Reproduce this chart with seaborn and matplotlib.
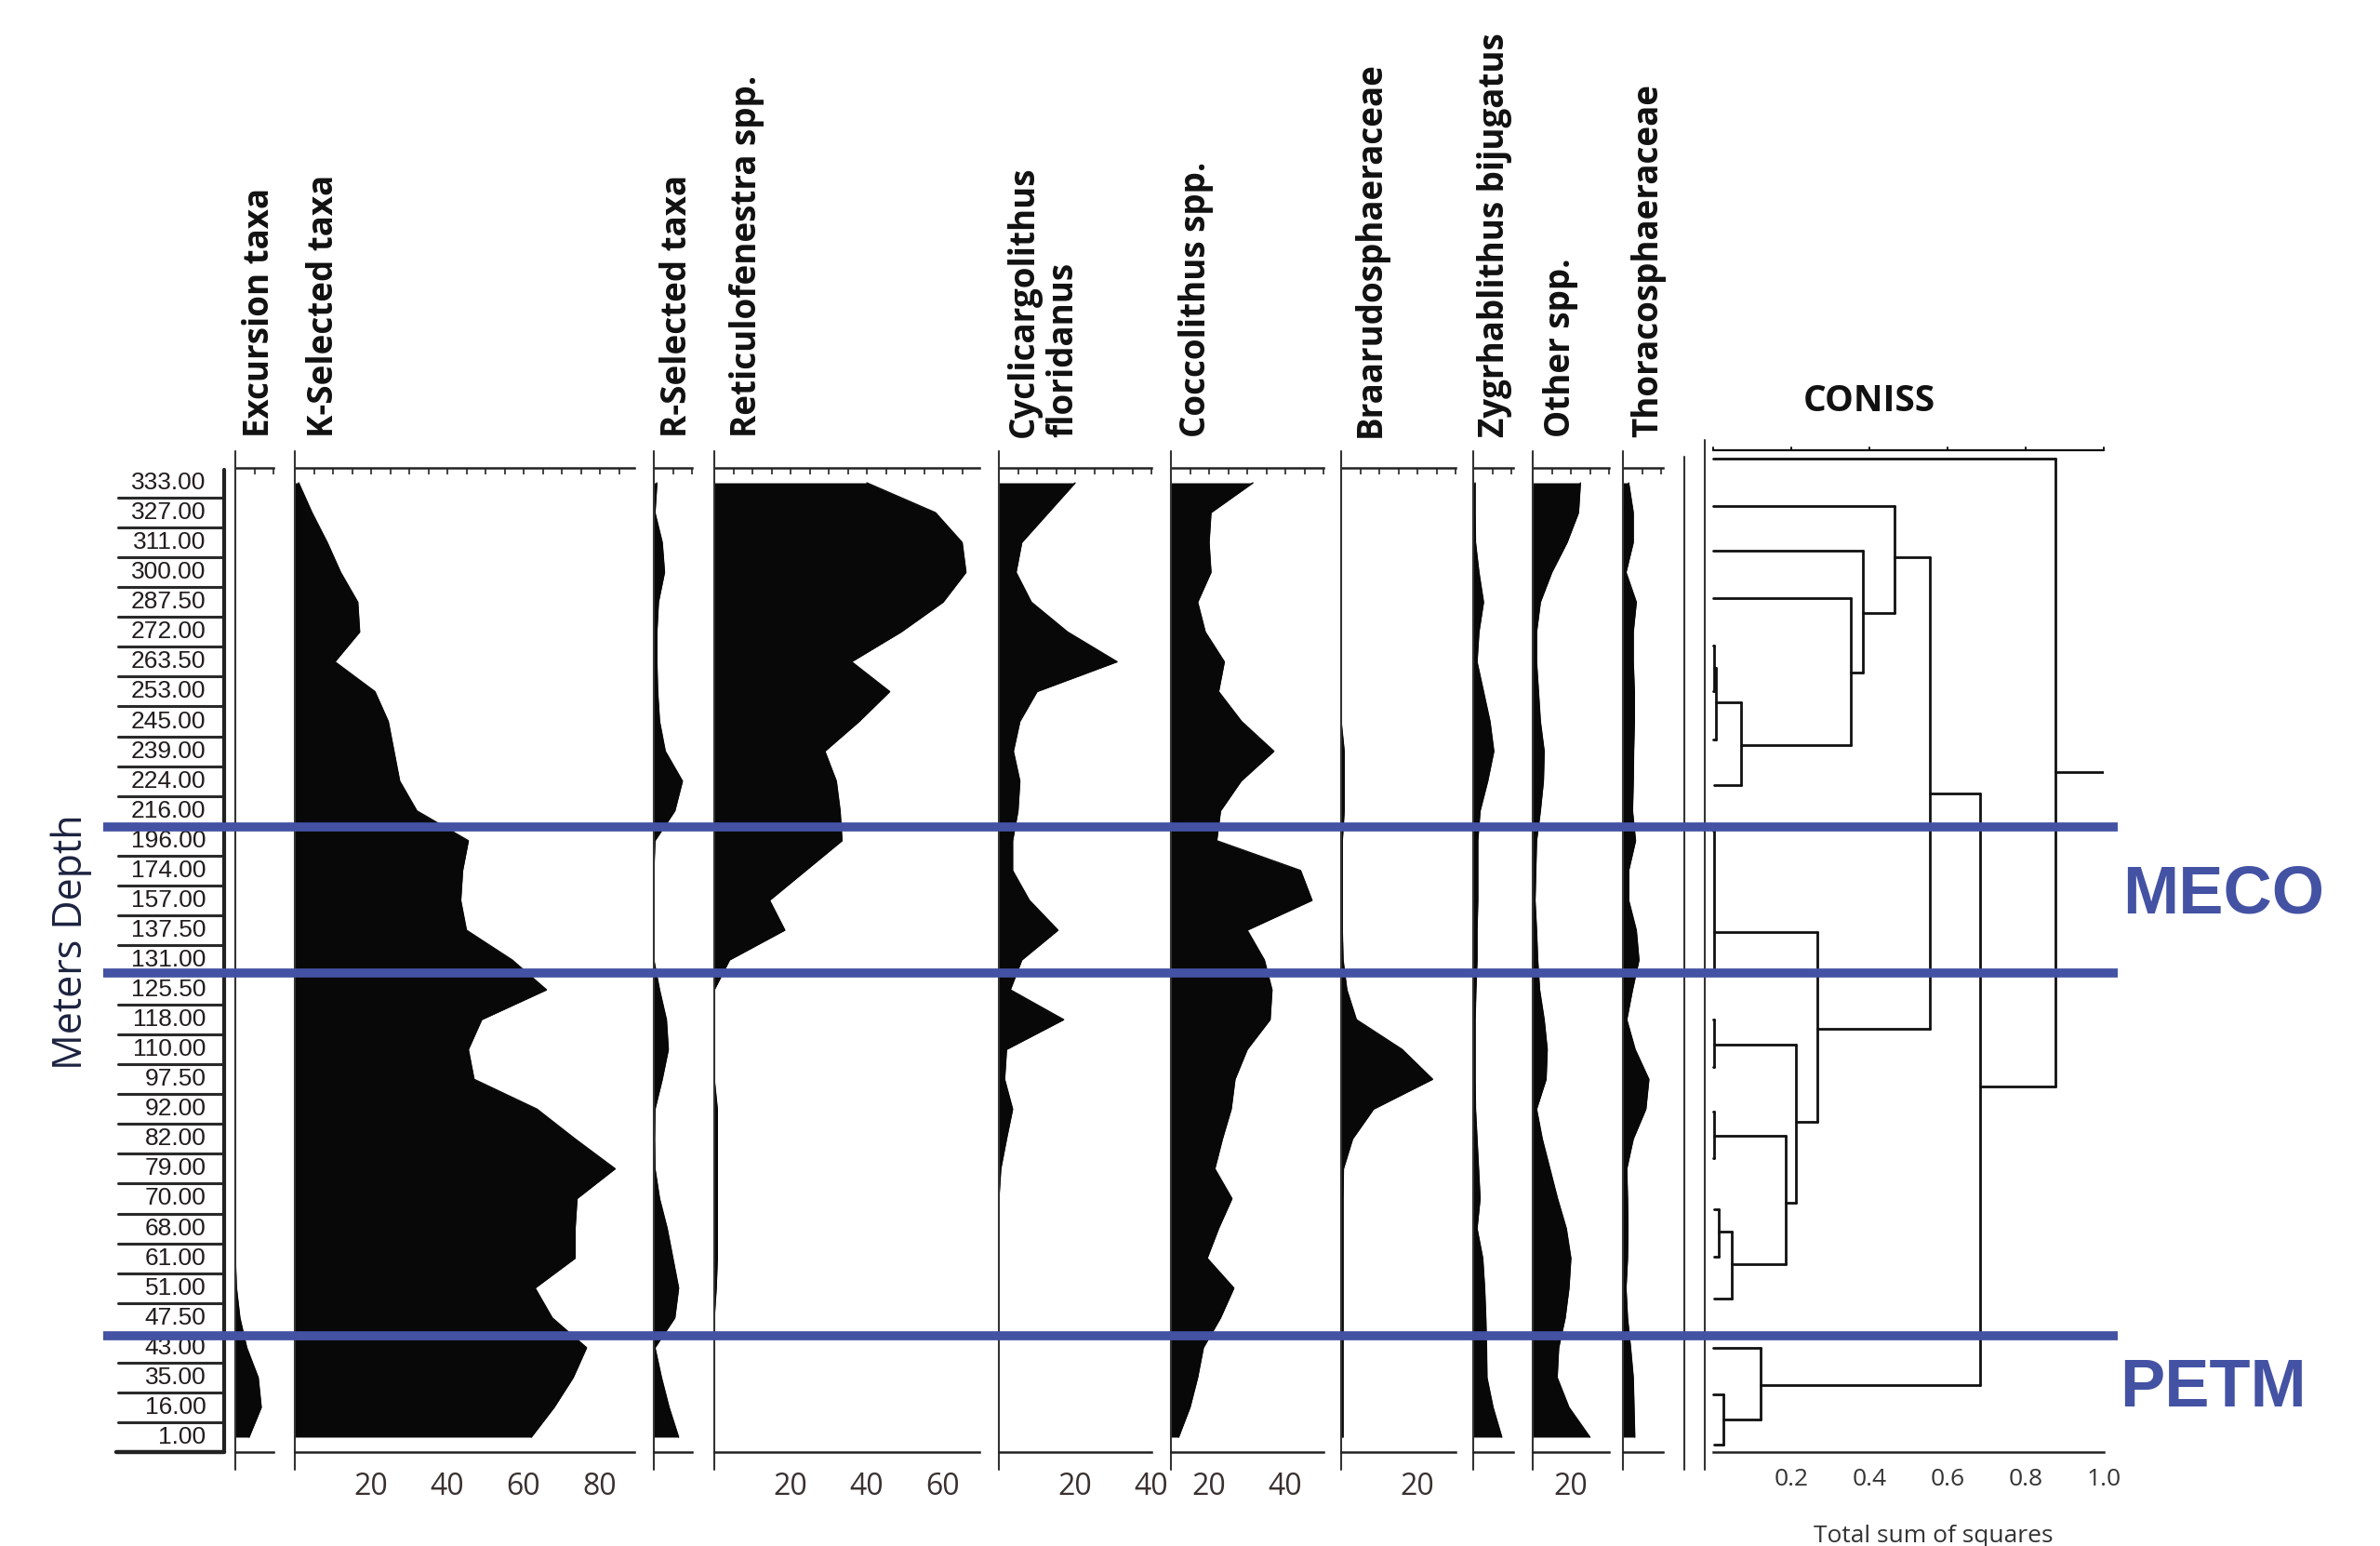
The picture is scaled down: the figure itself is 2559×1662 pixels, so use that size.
import matplotlib
matplotlib.use("Agg")
import matplotlib.pyplot as plt
import numpy as np
import pandas as pd
import seaborn as sns

# sample labels (top -> bottom), evenly spaced rows
depth_labels = ["333.00", "327.00", "311.00", "300.00", "287.50", "272.00", "263.50",
                "253.00", "245.00", "239.00", "224.00", "216.00", "196.00", "174.00",
                "157.00", "137.50", "131.00", "125.50", "118.00", "110.00", "97.50",
                "92.00", "82.00", "79.00", "70.00", "68.00", "61.00", "51.00", "47.50",
                "43.00", "35.00", "16.00", "1.00"]

excursion = [0, 0, 0, 0, 0, 0, 0, 0, 0, 0, 0, 0, 0, 0, 0, 0, 0, 0, 0, 0, 0, 0, 0, 0,
             0, 0, 0, 0.3, 1.2, 3, 6, 6.8, 3.6]
k_selected = [1, 4.5, 8.5, 12, 16.5, 17, 10.5, 21, 24.5, 26, 27.5, 32, 45.5, 44, 43.5,
              45, 57, 66, 49, 45.5, 47, 63.5, 73.5, 84, 74, 73.5, 73.5, 63, 67.5, 76.5,
              73, 68, 62]
r_selected = [0.8, 0.3, 2.2, 2.8, 1.2, 0.8, 0.8, 1, 1.5, 3, 7.5, 5.5, 0.3, 0, 0, 0, 0,
              1.5, 3.3, 3.8, 2.2, 0.3, 0.2, 0.3, 1.5, 3.5, 5, 6.5, 5.5, 0.3, 2, 4, 6.5]
reticulofenestra = [40, 58, 65, 66, 60, 49, 36, 46, 38, 29, 32, 33, 33.5, 24, 14.5, 18.5,
                    4, 0, 0, 0, 0, 0.8, 0.8, 0.8, 0.8, 0.8, 0.8, 0.5, 0, 0, 0, 0, 0]
cyclicargolithus = [20, 13, 6, 4.5, 8.5, 18, 31, 10, 5.5, 3.8, 5.5, 5, 3.6, 3.6, 8, 15.5,
                    6, 3, 17, 2, 1.5, 3.6, 2, 0.5, 0, 0, 0, 0, 0, 0, 0, 0, 0]
coccolithus = [31.5, 20.5, 20, 20.5, 17, 19, 24, 22.5, 28.5, 37, 28.4, 23, 22, 44, 47, 30,
               34.5, 36.5, 36, 30, 26.8, 25.8, 23.5, 21.5, 26, 22.5, 19.5, 26.5, 23, 18.5,
               17, 15, 12]
braarudosphaeraceae = [0, 0, 0, 0, 0, 0, 0, 0, 0, 0.8, 0.8, 0.8, 0.3, 0.3, 0.3, 0.3, 0.5,
                       1.5, 4, 16, 24, 8.5, 3, 0.6, 0.5, 0.5, 0.5, 0.5, 0.5, 0.5, 0.5,
                       0.5, 0.5]
zygrhablithus = [0.5, 0.5, 0.6, 1.5, 2.7, 1.5, 1, 2.7, 4.4, 5.4, 3.8, 1.8, 1.2, 1.2, 1.2,
                 1, 1, 0.7, 0.5, 0.5, 0.5, 0.6, 1, 1.4, 1.8, 1.0, 2.5, 3, 3.3, 3.5, 3.6,
                 5.2, 7.5]
other_spp = [22.5, 22, 19, 15, 12, 11, 11, 11.5, 12, 13, 12.8, 12, 11, 10.8, 10.6, 11,
             11.3, 11.8, 13, 13.8, 13.5, 11, 12.5, 14.5, 16.5, 18.8, 20, 19.5, 18.5, 16.8,
             16.4, 19.5, 25]
thoracosphaeraceae = [1.5, 2.7, 2.7, 0.8, 3.5, 2.7, 2.7, 3, 3, 2.8, 2.7, 2.5, 3.3, 1.5,
                      1.5, 3.5, 4.2, 2.5, 1, 3.2, 6.8, 6, 2.7, 1, 1.2, 1.3, 1.2, 0.8, 1.2,
                      2, 2.7, 2.9, 3.1]

taxa_names = ["Excursion taxa", "K-Selected taxa", "R-Selected taxa",
              "Reticulofenestra spp.", "Cyclicargolithus\nfloridanus", "Coccolithus spp.",
              "Braarudosphaeraceae", "Zygrhablithus bijugatus", "Other spp.",
              "Thoracosphaeraceae"]

# zone boundaries (in sample rows) and zone names
zone_bounds = [11.55, 16.43, 28.6]
zone_names = ["MECO", "PETM"]

# CONISS: (node height, upper child row, upper child height, lower child row, lower child height)
coniss_nodes = [
    (0.877, -0.82, 0.0, 20.24, 0.683),
    (0.683, 10.42, 0.556, 30.25, 0.123),
    (0.556, 2.49, 0.464, 18.30, 0.267),
    (0.464, 0.78, 0.0, 4.37, 0.383),
    (0.383, 2.27, 0.0, 6.37, 0.352),
    (0.352, 3.87, 0.0, 8.79, 0.072),
    (0.072, 7.36, 0.008, 10.13, 0.004),
    (0.008, 6.20, 0.004, 8.60, 0.0),
    (0.004, 5.46, 0.0, 6.99, 0.0),
    (0.267, 15.07, 0.004, 21.44, 0.213),
    (0.004, 11.66, 0.0, 16.40, 0.0),
    (0.213, 18.84, 0.004, 24.14, 0.186),
    (0.004, 18.00, 0.0, 19.60, 0.0),
    (0.186, 21.90, 0.004, 26.19, 0.048),
    (0.004, 21.07, 0.0, 22.63, 0.0),
    (0.048, 25.12, 0.014, 27.36, 0.004),
    (0.014, 24.35, 0.004, 25.96, 0.004),
    (0.123, 29.02, 0.0, 31.41, 0.026),
    (0.026, 30.57, 0.0, 32.24, 0.004),
]
coniss_ticks = [0.0, 0.2, 0.4, 0.6, 0.8, 1.0]

rows = np.arange(len(depth_labels))
df = pd.DataFrame({
    "row": rows,
    "Excursion taxa": excursion,
    "K-Selected taxa": k_selected,
    "R-Selected taxa": r_selected,
    "Reticulofenestra spp.": reticulofenestra,
    "Cyclicargolithus\nfloridanus": cyclicargolithus,
    "Coccolithus spp.": coccolithus,
    "Braarudosphaeraceae": braarudosphaeraceae,
    "Zygrhablithus bijugatus": zygrhablithus,
    "Other spp.": other_spp,
    "Thoracosphaeraceae": thoracosphaeraceae,
})

sns.set_theme(style="white")
plt.rcParams["font.family"] = ["Open Sans", "DejaVu Sans"]

W, H = 2559, 1662
PX_PER_UNIT = 4.1
TOP, BOT = 503, 1561
BLUE = "#4352a3"
INK = "#111111"


def fx(px):
    return px / W


def fy(py):
    return 1 - py / H


fig = plt.figure(figsize=(W / 100, H / 100), dpi=100)

# (left px, xmin, xmax, bottom tick step, labelled ticks, label x centre px)
panels = [
    (253, 0, 10, 3, [], 279),
    (317, 0, 89, 5, [20, 40, 60, 80], 348),
    (703, 0, 10, 5, [], 728),
    (768, 0, 69.5, 10, [20, 40, 60], 803),
    (1074, 0, 40, 10, [20, 40], 1122),
    (1259, 10, 50, 5, [20, 40], 1286),
    (1442, 0, 30, 10, [20], 1474),
    (1584, 0, 10.5, 5, [], 1607),
    (1648, 10, 30, 5, [20], 1678),
    (1745, 0, 10.5, 5, [], 1772),
]
ylim = (32.5, -0.5)

for name, (left, xmin, xmax, step, labelled, lab_x) in zip(taxa_names, panels):
    ax = fig.add_axes([fx(left), fy(BOT), (xmax - xmin) * PX_PER_UNIT / W, (BOT - TOP) / H])
    vals = df[name].to_numpy()
    ax.fill_betweenx(df["row"], xmin, vals, color="#080808", lw=0)
    sns.lineplot(x=vals, y=df["row"], orient="y", sort=False, estimator=None,
                 color="#080808", lw=1, ax=ax)
    ax.set_xlim(xmin, xmax)
    ax.set_ylim(*ylim)
    ax.set_yticks([])
    ax.set_ylabel("")
    for s in ["left", "right", "top"]:
        ax.spines[s].set_visible(False)
    ax.spines["bottom"].set_linewidth(1.8)
    ax.spines["bottom"].set_color("#222222")
    ticks = np.arange(xmin, xmax + 0.01, step)
    ax.set_xticks(ticks)
    ax.set_xticklabels([str(int(t)) if int(t) in labelled and t == int(t) else "" for t in ticks])
    ax.tick_params(axis="x", direction="out", length=11, width=1.6, color="#222222",
                   labelsize=23, pad=4, labelcolor="#3a3030")
    sec = ax.secondary_xaxis("top")
    sec.set_xticks(np.arange(xmin, xmax + 0.01, 5))
    sec.tick_params(direction="in", length=5, width=1.2, labeltop=False, color="#222222")
    sec.spines["top"].set_linewidth(1.8)
    sec.spines["top"].set_color("#222222")
    ax.plot([xmin, xmin], [-1.06, 33.1], color="#333333", lw=1.5, clip_on=False)
    fig.text(fx(lab_x), fy(470), name, rotation=90, ha="center", va="bottom",
             fontsize=26.5, fontweight="bold", color=INK, linespacing=1.15,
             multialignment="left")

# depth label column
dax = fig.add_axes([fx(125), fy(BOT), (241 - 125) / W, (BOT - TOP) / H])
dax.set_xlim(0, 1)
dax.set_ylim(*ylim)
dax.axis("off")
for i, lab in enumerate(depth_labels):
    dax.text(0.83, i, lab, ha="right", va="center", fontsize=19, color="#221c1c",
             family=["Liberation Sans Narrow", "Liberation Sans"])
    if i < len(depth_labels) - 1:
        dax.plot([0.02, 1], [i + 0.5, i + 0.5], color="#2a2a2a", lw=2.2)
dax.plot([0.0, 1], [32.5, 32.5], color="#222222", lw=3.2, clip_on=False)
dax.plot([1, 1], [-0.45, 32.5], color="#222222", lw=3, clip_on=False)
fig.text(fx(77), fy(1013), "Meters Depth", rotation=90, ha="center", va="center",
         fontsize=31, color="#1c2340")

# CONISS dendrogram
cax = fig.add_axes([fx(1841.7), fy(BOT), 420 / W, (BOT - TOP) / H])
cax.set_xlim(0, 1)
cax.set_ylim(*ylim)
for h, ra, ha_, rb, hb in coniss_nodes:
    cax.plot([h, h], [ra, rb], color=INK, lw=2, clip_on=False)
    cax.plot([ha_, h], [ra, ra], color=INK, lw=2, clip_on=False)
    cax.plot([hb, h], [rb, rb], color=INK, lw=2, clip_on=False)
root = coniss_nodes[0]
cax.plot([root[0], 1.0], [(root[1] + root[3]) / 2] * 2, color=INK, lw=2)
cax.plot([0, 1], [-1.09, -1.09], color=INK, lw=1.6, clip_on=False)
for t in coniss_ticks:
    cax.plot([t, t], [-1.09, -1.2], color=INK, lw=1.4, clip_on=False)
for xv, top in [(-0.073, -0.87), (-0.021, -1.45)]:
    cax.plot([xv, xv], [top, 33.1], color="#333333", lw=1.5, clip_on=False)
cax.set_yticks([])
for s in ["left", "right", "top"]:
    cax.spines[s].set_visible(False)
cax.spines["bottom"].set_linewidth(1.8)
cax.spines["bottom"].set_color("#222222")
cax.set_xticks(coniss_ticks)
cax.set_xticklabels(["" if t == 0 else f"{t:.1f}" for t in coniss_ticks])
cax.tick_params(axis="x", direction="out", length=9, width=1.8, color="#222222",
                labelsize=19, pad=3, labelcolor="#333333")
fig.text(fx(2010), fy(432), "CONISS", ha="center", va="center", fontsize=28,
         fontweight="bold", color=INK)
fig.text(fx(2079), fy(1652), "Total sum of squares", ha="center", va="center",
         fontsize=19, color="#333333")

# zone boundaries
ov = fig.add_axes([fx(111), fy(BOT), (2277 - 111) / W, (BOT - TOP) / H])
ov.set_xlim(0, 1)
ov.set_ylim(*ylim)
ov.axis("off")
for b in zone_bounds:
    ov.axhline(b, color=BLUE, lw=7)
for name, (xc, yc) in zip(zone_names, [(2391, 963), (2379, 1493)]):
    fig.text(fx(xc), fy(yc), name, ha="center", va="center", fontsize=52,
             fontweight="bold", color=BLUE, family=["Liberation Sans", "DejaVu Sans"])

fig.savefig("out.png", dpi=100)
plt.close(fig)
